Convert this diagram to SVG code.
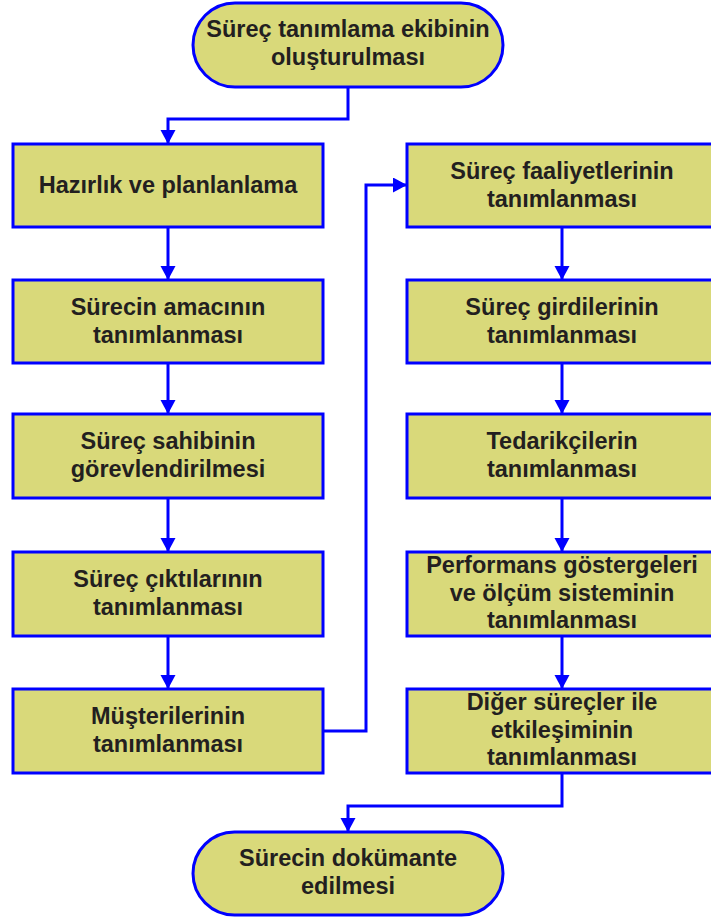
<svg xmlns="http://www.w3.org/2000/svg" width="711" height="920" viewBox="0 0 711 920">
  <style>
    .box { fill: #d9d97a; stroke: #0000ff; stroke-width: 3; }
    .lbl { font-family: "Liberation Sans", Arial, sans-serif; font-weight: bold; font-size: 23.5px; fill: #231f20; text-anchor: middle; }
    .wire { fill: none; stroke: #0000ff; stroke-width: 3; }
  </style>
  <defs>
    <marker id="arrow" markerUnits="userSpaceOnUse" markerWidth="16" markerHeight="16" refX="13" refY="7.5" orient="auto">
      <path d="M0,0 L14,7.5 L0,15 Z" fill="#0000ff"/>
    </marker>
  </defs>

  <rect width="711" height="920" fill="#ffffff"/>

  <!-- connectors -->
  <g id="connectors">
    <path class="wire" d="M348,87 V119 H168 V143" marker-end="url(#arrow)"/>
    <path class="wire" d="M168,227 V279" marker-end="url(#arrow)"/>
    <path class="wire" d="M168,363 V413" marker-end="url(#arrow)"/>
    <path class="wire" d="M168,498 V551" marker-end="url(#arrow)"/>
    <path class="wire" d="M168,636 V688" marker-end="url(#arrow)"/>
    <path class="wire" d="M323,731 H366 V185 H406" marker-end="url(#arrow)"/>
    <path class="wire" d="M562,227 V279" marker-end="url(#arrow)"/>
    <path class="wire" d="M562,363 V413" marker-end="url(#arrow)"/>
    <path class="wire" d="M562,498 V551" marker-end="url(#arrow)"/>
    <path class="wire" d="M562,636 V688" marker-end="url(#arrow)"/>
    <path class="wire" d="M562,773 V806 H348 V831" marker-end="url(#arrow)"/>
  </g>

  <!-- start -->
  <g id="start">
    <rect class="box" x="193" y="3" width="310" height="84" rx="42" ry="42"/>
    <text class="lbl" x="348" y="37">Süreç tanımlama ekibinin</text>
    <text class="lbl" x="348" y="65">oluşturulması</text>
  </g>

  <!-- left column -->
  <g id="hazirlik">
    <rect class="box" x="13" y="144" width="310" height="83"/>
    <text class="lbl" x="168" y="193">Hazırlık ve planlanlama</text>
  </g>
  <g id="amac">
    <rect class="box" x="13" y="280" width="310" height="83"/>
    <text class="lbl" x="168" y="315">Sürecin amacının</text>
    <text class="lbl" x="168" y="343">tanımlanması</text>
  </g>
  <g id="sahip">
    <rect class="box" x="13" y="414" width="310" height="84"/>
    <text class="lbl" x="168" y="449">Süreç sahibinin</text>
    <text class="lbl" x="168" y="477">görevlendirilmesi</text>
  </g>
  <g id="cikti">
    <rect class="box" x="13" y="552" width="310" height="84"/>
    <text class="lbl" x="168" y="587">Süreç çıktılarının</text>
    <text class="lbl" x="168" y="615">tanımlanması</text>
  </g>
  <g id="musteri">
    <rect class="box" x="13" y="689" width="310" height="84"/>
    <text class="lbl" x="168" y="724">Müşterilerinin</text>
    <text class="lbl" x="168" y="752">tanımlanması</text>
  </g>

  <!-- right column -->
  <g id="faaliyet">
    <rect class="box" x="407" y="144" width="310" height="83"/>
    <text class="lbl" x="562" y="179">Süreç faaliyetlerinin</text>
    <text class="lbl" x="562" y="207">tanımlanması</text>
  </g>
  <g id="girdi">
    <rect class="box" x="407" y="280" width="310" height="83"/>
    <text class="lbl" x="562" y="315">Süreç girdilerinin</text>
    <text class="lbl" x="562" y="343">tanımlanması</text>
  </g>
  <g id="tedarikci">
    <rect class="box" x="407" y="414" width="310" height="84"/>
    <text class="lbl" x="562" y="449">Tedarikçilerin</text>
    <text class="lbl" x="562" y="477">tanımlanması</text>
  </g>
  <g id="performans">
    <rect class="box" x="407" y="552" width="310" height="84"/>
    <text class="lbl" x="562" y="573">Performans göstergeleri</text>
    <text class="lbl" x="562" y="601">ve ölçüm sisteminin</text>
    <text class="lbl" x="562" y="628">tanımlanması</text>
  </g>
  <g id="etkilesim">
    <rect class="box" x="407" y="689" width="310" height="84"/>
    <text class="lbl" x="562" y="710">Diğer süreçler ile</text>
    <text class="lbl" x="562" y="738">etkileşiminin</text>
    <text class="lbl" x="562" y="765">tanımlanması</text>
  </g>

  <!-- end -->
  <g id="end">
    <rect class="box" x="193" y="832" width="310" height="83" rx="41.5" ry="41.5"/>
    <text class="lbl" x="348" y="866">Sürecin dokümante</text>
    <text class="lbl" x="348" y="894">edilmesi</text>
  </g>
</svg>
